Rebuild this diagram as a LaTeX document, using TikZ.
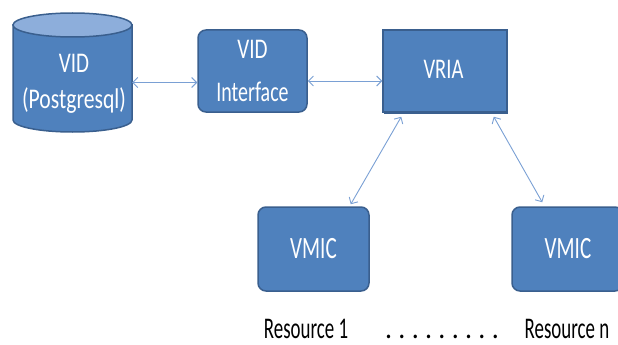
\documentclass[tikz,border=0pt]{standalone}
\usepackage{fontspec}
\setmainfont{Carlito}
\usetikzlibrary{arrows.meta,calc}
\definecolor{boxfill}{HTML}{4F81BD}
\definecolor{boxline}{HTML}{3A5F8E}
\definecolor{toplight}{HTML}{8DAEDB}
\definecolor{arrcol}{HTML}{7AA0D4}
\newcommand{\sqz}[2][0.74]{\scalebox{#1}[1]{#2}}
\tikzset{
  box/.style={fill=boxfill, draw=boxline, line width=1.5pt, inner sep=0pt},
  rbox/.style={box, rounded corners=8pt},
  whitetext/.style={text=white, font=\fontsize{28.5}{30}\selectfont, inner sep=0pt, anchor=base},
  arr/.style={draw=arrcol, line width=0.9pt, {Straight Barb[length=5pt,width=10pt]}-{Straight Barb[length=5pt,width=10pt]}},
  reslabel/.style={font=\fontsize{30}{32}\selectfont, text=black, inner sep=0pt, anchor=base}
}
\begin{document}
\begin{tikzpicture}[x=1pt,y=-1pt]
\useasboundingbox (0,0) rectangle (618,345);
\clip (0,0) rectangle (618,345);
% database cylinder
\draw[fill=boxfill, draw=boxline, line width=1.5pt]
  (13,25) -- (13,120) arc[start angle=180, end angle=0, x radius=59.5, y radius=12] -- (132,25) -- cycle;
\draw[fill=toplight, draw=boxline, line width=1.5pt] (72.5,25) ellipse[x radius=59.5, y radius=12];
\node[minimum width=119pt, minimum height=119pt, inner sep=0pt] (db) at (72.5,72.5) {};
\node[whitetext] (dbt1) at (74,73) {\sqz{VID}};
\node[whitetext] (dbt2) at (74,108) {\sqz[0.76]{(Postgresql)}};
% boxes
\node[rbox, minimum width=109pt, minimum height=82pt] (iface) at (252.5,71) {};
\node[whitetext] (ift1) at (252.5,59) {\sqz{VID}};
\node[whitetext] (ift2) at (252.5,101) {\sqz[0.7]{Interface}};
\fill[boxline] (384,32) rectangle (508,114);
\node[box, minimum width=124pt, minimum height=82pt] (vria) at (445,71) {};
\node[whitetext] (vriat) at (443.5,78) {\sqz[0.72]{VRIA}};
\node[rbox, minimum width=111pt, minimum height=84pt] (vmic1) at (313.5,249) {};
\node[whitetext, font=\fontsize{31}{32}\selectfont] (vm1t) at (313.5,258) {\sqz[0.68]{VMIC}};
\node[rbox, minimum width=111pt, minimum height=84pt] (vmic2) at (567.5,249) {};
\node[whitetext, font=\fontsize{31}{32}\selectfont] (vm2t) at (568,258) {\sqz[0.68]{VMIC}};
% labels
\node[reslabel] (r1) at (306,338) {\sqz[0.63]{Resource 1}};
\node[reslabel] (rn) at (567,338) {\sqz[0.63]{Resource n}};
\node[reslabel] (dots) at (442,338) {\sqz[0.93]{.\ .\ .\ .\ .\ .\ .\ .\ .}};
% connectors
\draw[arr] ([yshift=-10pt]db.east) -- ([yshift=-11.5pt]iface.west);
\draw[arr] ([yshift=-10pt]iface.east) -- ([yshift=-10pt]vria.west);
\draw[arr] ([xshift=19pt,yshift=-4pt]vria.south west) -- ([xshift=-19pt,yshift=2pt]vmic1.north east);
\draw[arr] ([xshift=-14pt,yshift=-4pt]vria.south east) -- ([xshift=31pt,yshift=4pt]vmic2.north west);
\end{tikzpicture}
\end{document}
